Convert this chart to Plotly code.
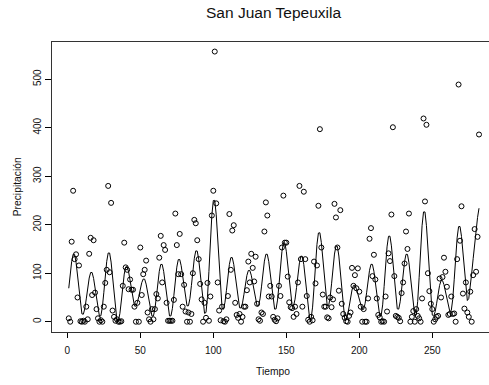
import plotly.graph_objects as go

# Monthly precipitation series (months 1..282)
precipitacion = [
    7, 0, 165, 270, 129, 139, 50, 116, 1, 0, 2, 0,
    31, 5, 140, 173, 55, 168, 60, 26, 7, 0, 3, 0,
    31, 80, 107, 280, 102, 245, 23, 10, 2, 5, 0, 0,
    1, 74, 163, 112, 107, 67, 87, 66, 66, 31, 0, 39,
    0, 153, 55, 98, 107, 126, 19, 5, 0, 26, 5, 26,
    57, 48, 132, 177, 81, 158, 148, 39, 2, 2, 2, 2,
    45, 223, 158, 98, 181, 98, 31, 76, 21, 0, 19, 0,
    16, 100, 210, 203, 168, 129, 78, 46, 0, 39, 8, 80,
    2, 52, 219, 270, 557, 244, 81, 23, 3, 31, 1, 0,
    5, 53, 222, 107, 188, 199, 39, 14, 8, 16, 0, 10,
    31, 31, 65, 124, 81, 140, 111, 83, 134, 37, 5, 2,
    19, 16, 186, 246, 219, 52, 74, 52, 10, 4, 1, 7,
    74, 53, 153, 260, 163, 163, 93, 40, 30, 28, 10, 31,
    16, 81, 280, 129, 31, 268, 129, 53, 4, 0, 10, 3,
    124, 79, 116, 239, 397, 153, 56, 31, 31, 9, 7, 50,
    30, 46, 243, 215, 153, 64, 230, 37, 16, 8, 1, 0,
    12, 19, 111, 74, 96, 69, 110, 62, 31, 0, 26, 0,
    0, 48, 171, 193, 94, 138, 87, 48, 14, 9, 0, 1,
    0, 52, 21, 141, 125, 221, 401, 94, 12, 10, 8, 1,
    59, 81, 120, 186, 150, 223, 0, 10, 22, 0, 26, 12,
    7, 0, 48, 419, 248, 406, 100, 63, 37, 26, 0, 5,
    10, 12, 89, 50, 92, 132, 103, 72, 14, 16, 52, 16,
    17, 0, 129, 489, 167, 238, 58, 27, 81, 19, 10, 62,
    0, 96, 191, 103, 175, 386,
]

# Fitted seasonal curve for the same months
ajuste = [
    69, 98.5, 124.3, 139.1, 138.8, 122.5, 93.9, 61.1, 32.5, 16.2, 15.5, 27,
    47, 70, 90, 101.5, 101.4, 89.4, 68.5, 44.5, 23.6, 11.6, 12.3, 29.6,
    59.7, 94.3, 124.4, 141.7, 141.6, 123, 90.6, 53.4, 21, 2.4, 2, 16.8,
    42.7, 72.3, 98.2, 113, 113.6, 102.7, 83.8, 62.2, 43.3, 32.4, 32, 39.5,
    52.5, 67.5, 80.5, 88, 87.7, 77.5, 59.7, 39.3, 21.5, 11.3, 11.9, 26.1,
    50.8, 79.2, 103.9, 118.1, 118.1, 103.9, 79.2, 50.8, 26.1, 11.9, 12, 27.5,
    54.5, 85.5, 112.5, 128, 128.3, 115.5, 93.3, 67.7, 45.5, 32.7, 33, 48.1,
    74.4, 104.6, 130.9, 146, 145.7, 128.6, 98.7, 64.3, 34.4, 17.3, 19, 49.9,
    103.7, 165.3, 219.1, 249.9, 250.1, 220.4, 168.7, 109.3, 57.6, 27.9, 25.9, 40.1,
    64.8, 93.2, 117.9, 132.1, 132.2, 118.4, 94.3, 66.7, 42.6, 28.8, 28.4, 38.7,
    56.7, 77.3, 95.3, 105.6, 105.7, 95.9, 78.8, 59.2, 42.1, 32.3, 32.9, 47.1,
    71.8, 100.2, 124.9, 139.1, 139, 123.9, 97.6, 67.4, 41.1, 26, 26.4, 44.6,
    76.3, 112.7, 144.4, 162.6, 162.7, 145.4, 115.3, 80.7, 50.6, 33.3, 32.8, 46.5,
    70.3, 97.7, 121.5, 135.2, 134.7, 117.5, 87.5, 53, 23, 5.8, 6.6, 30.1,
    71.2, 118.3, 159.4, 182.9, 183.4, 163.4, 128.5, 88.5, 53.6, 33.6, 33.2, 49.5,
    78.1, 110.9, 139.5, 155.8, 155.4, 135.4, 100.7, 60.8, 26.1, 6.1, 4.7, 14.1,
    30.4, 49.1, 65.4, 74.8, 75.1, 68.4, 56.7, 43.3, 31.6, 24.9, 25.6, 38,
    59.6, 84.4, 106, 118.4, 118.1, 103.9, 79.2, 50.8, 26.1, 11.9, 12.9, 34.7,
    72.7, 116.3, 154.3, 176.1, 176.4, 156.4, 121.5, 81.5, 46.6, 26.6, 26, 41.1,
    67.4, 97.6, 123.9, 139, 138.8, 121.9, 92.4, 58.6, 29.1, 12.2, 13.7, 42.1,
    91.6, 148.4, 197.9, 226.3, 226.3, 197.9, 148.4, 91.6, 42.1, 13.7, 11.3, 21.1,
    38.2, 57.8, 74.9, 84.7, 84.9, 76.4, 61.5, 44.5, 29.6, 21.1, 23, 46.1,
    86.4, 132.6, 172.9, 196, 196.3, 175.9, 140.4, 99.6, 64.1, 43.7, 48, 70,
    100, 130, 160, 190, 215, 234,
]

tiempo = list(range(1, len(precipitacion) + 1))

x_ticks = [0, 50, 100, 150, 200, 250]
y_ticks = [0, 100, 200, 300, 400, 500]

titulo = "San Juan Tepeuxila"
etiqueta_x = "Tiempo"
etiqueta_y = "Precipitación"

FONT = "Liberation Sans, Arial, Helvetica, sans-serif"

fig = go.Figure()
fig.add_trace(go.Scatter(
    x=tiempo, y=ajuste, mode="lines",
    line=dict(color="black", width=1), hoverinfo="skip",
))
fig.add_trace(go.Scatter(
    x=tiempo, y=precipitacion, mode="markers",
    marker=dict(symbol="circle-open", size=5, color="black",
                line=dict(width=1, color="black")),
))

fig.update_layout(
    width=489, height=385,
    margin=dict(l=52, r=0, t=42, b=53),
    plot_bgcolor="white", paper_bgcolor="white",
    showlegend=False,
    font=dict(family=FONT, size=10, color="black"),
    annotations=[
        dict(text=titulo, x=0.5064, y=1.1, xref="paper", yref="paper",
             xanchor="center", yanchor="middle", showarrow=False,
             font=dict(size=15.5, family=FONT, color="#111111")),
        dict(text=etiqueta_x, x=0.5064, y=-0.1345, xref="paper", yref="paper",
             xanchor="center", yanchor="middle", showarrow=False,
             font=dict(size=10.3, family=FONT, color="#111111")),
        dict(text=etiqueta_y, x=-0.0794, y=0.5, xref="paper", yref="paper",
             xanchor="center", yanchor="middle", showarrow=False, textangle=-90,
             font=dict(size=10.3, family=FONT, color="#111111")),
    ],
)

fig.update_xaxes(
    range=[-10.48, 288.84], tickvals=x_ticks, ticktext=[str(v) for v in x_ticks],
    ticks="outside", ticklen=5, tickcolor="black", tickwidth=1,
    ticklabelstandoff=4,
    showline=True, linecolor="#333333", linewidth=1, mirror=True,
    showgrid=False, zeroline=False, tickfont=dict(size=10, color="#111111"),
)
fig.update_yaxes(
    range=[-21.2, 576.7], tickvals=y_ticks, ticktext=[str(v) for v in y_ticks],
    tickangle=-90,
    ticks="outside", ticklen=6, tickcolor="black", tickwidth=1,
    showline=True, linecolor="#333333", linewidth=1, mirror=False,
    showgrid=False, zeroline=False, tickfont=dict(size=10, color="#111111"),
)

fig.write_html("out.html", config={"displayModeBar": False})
